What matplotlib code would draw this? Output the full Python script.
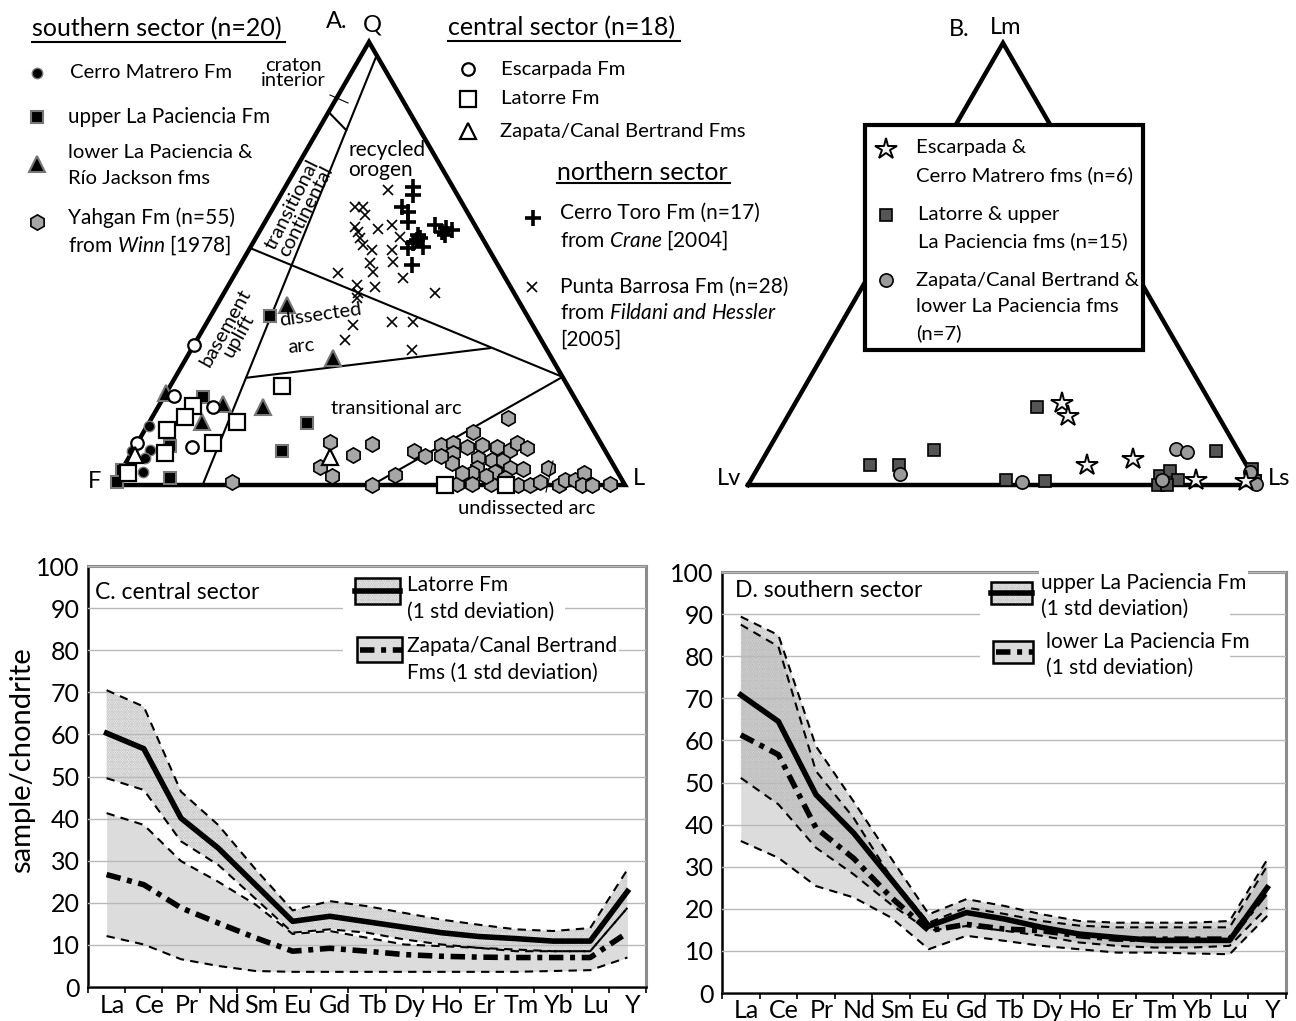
import numpy as np
import matplotlib
matplotlib.use('Agg')
import matplotlib.pyplot as plt
from matplotlib.patches import Rectangle

# ---------------------------------------------------------------- data
# Panel A: QFL compositions in percent (Q = quartz apex, L = lithic corner, F = 100-Q-L)
cm_Q = [13.3, 7.9, 6.1, 2.9, 7.6]                    # Cerro Matrero Fm
cm_L = [0.3, 3.3, 3.2, 4.4, 0.0]
ulp_Q = [38.1, 19.9, 8.8, 3.4, 0.7, 1.6, 7.7, 14.0]  # upper La Paciencia Fm
ulp_L = [11.6, 7.6, 6.7, 0.0, 0.4, 10.3, 29.2, 30.9]
llp_Q = [40.6, 28.7, 20.8, 18.3, 14.2, 17.6]         # lower La Paciencia & Rio Jackson
llp_L = [13.7, 28.6, 0.0, 12.3, 10.3, 20.5]
yah_Q = [0.7, 4.1, 2.0, 6.8, 9.3, 9.7, 0.0, 2.3, 7.7, 6.5, 9.0, 9.5, 7.2, 5.0, 8.6, 9.0,
         6.1, 3.8, 2.7, 0.2, 8.6, 5.6, 5.6, 7.9, 9.5, 8.4, 2.9, 3.8, 3.6, 0.2, 0.0, 0.0,
         3.8, 0.0, 1.1, 1.1, 2.7, 0.0, 0.0, 0.2, 0.2, 12.0, 15.1, 2.0, 2.7, 1.6, 0.7, 6.5]
yah_L = [22.9, 38.4, 41.8, 43.5, 45.9, 37.5, 50.6, 53.9, 54.9, 57.7, 59.6, 61.7, 62.8, 63.7,
         64.8, 67.6, 68.2, 69.2, 68.8, 70.1, 70.7, 71.2, 73.4, 73.6, 74.2, 76.7, 73.2, 75.6,
         78.3, 73.8, 79.1, 81.4, 83.1, 87.1, 87.7, 89.7, 90.6, 91.6, 93.6, 97.0, 67.0, 64.3,
         69.6, 71.9, 66.8, 75.8, 83.0, 60.8]
esc_Q = [31.6, 20.1, 17.6, 9.5, 8.6]                 # Escarpada Fm
esc_L = [0.0, 1.9, 10.7, 0.0, 11.1]
lat_Q = [17.8, 15.3, 14.2, 22.3, 12.4, 9.5, 7.2, 2.7, 0.0, 0.0]   # Latorre Fm
lat_L = [6.7, 6.4, 17.1, 21.9, 4.3, 14.8, 6.6, 1.6, 64.8, 76.8]
zap_Q = [6.8, 6.3]                                   # Zapata/Canal Bertrand Fms
zap_L = [0.9, 39.2]
ct_Q = [67.3, 65.5, 62.8, 61.6, 59.4, 58.7, 56.4, 55.8, 53.7, 53.5, 49.7, 57.1, 56.4, 57.6,
        55.3, 54.6, 58.0]                            # Cerro Toro Fm
ct_L = [24.9, 25.9, 25.0, 26.8, 27.9, 33.5, 31.4, 32.1, 33.7, 30.9, 33.5, 35.7, 36.6, 37.4,
        31.7, 31.3, 36.0]
pb_Q = [66.6, 62.8, 62.8, 60.9, 58.2, 57.1, 55.8, 54.2, 53.0, 57.8, 58.7, 56.0, 53.0, 50.3,
        50.1, 48.1, 46.7, 47.9, 44.7, 45.1, 43.3, 43.3, 42.2, 36.1, 36.8, 36.8, 32.7, 30.5]
pb_L = [20.4, 15.9, 17.4, 18.8, 18.2, 19.3, 20.3, 21.7, 24.1, 22.9, 25.1, 28.0, 28.0, 29.5,
        25.1, 26.7, 33.3, 20.0, 28.8, 25.1, 26.2, 41.2, 26.6, 28.8, 36.1, 40.2, 29.0, 43.2]
# QFL field boundaries: (Q1, L1, Q2, L2)
field_lines = [(97, 3, 0, 17.5), (84.2, 0, 80.1, 5.5), (53.5, 0, 24.4, 75.6),
               (24.2, 13.9, 30.9, 58.2), (24.4, 75.6, 0, 50.6)]

# Panel B: Lm (apex) and Ls (right corner) in percent, Lv = 100-Lm-Ls
st_Lm = [18.6, 15.6, 4.5, 5.9, 1.1, 0.9]
st_Ls = [52.3, 54.9, 64.2, 72.5, 87.3, 97.2]
sq_Lm = [4.5, 4.5, 7.9, 17.6, 1.1, 0.9, 7.7, 2.0, 3.2, 1.1, 0.0, 0.0, 3.6, 1.0, 0.9]
sq_Ls = [21.7, 27.4, 32.5, 47.9, 50.0, 57.8, 87.9, 79.8, 81.1, 83.8, 80.4, 82.2, 97.0, 99.0, 98.9]
ci_Lm = [2.5, 0.7, 8.1, 7.5, 1.1, 2.9, 0.2]
ci_Ls = [28.6, 53.4, 79.9, 82.3, 80.6, 97.0, 99.5]

# Panels C, D: chondrite-normalised REE
ree = ['La', 'Ce', 'Pr', 'Nd', 'Sm', 'Eu', 'Gd', 'Tb', 'Dy', 'Ho', 'Er', 'Tm', 'Yb', 'Lu', 'Y']
yticks = [0, 10, 20, 30, 40, 50, 60, 70, 80, 90, 100]
latorre_mean = [60.3, 56.6, 40.1, 33.0, 24.3, 15.6, 16.8, 15.5, 14.2, 12.9, 12.0, 11.5, 10.9, 10.9, 22.7]
latorre_up = [70.5, 66.6, 46.4, 38.5, 28.0, 18.2, 20.4, 19.2, 17.6, 16.0, 14.8, 13.7, 13.3, 14.0, 27.9]
latorre_lo = [49.6, 46.8, 34.6, 29.0, 21.0, 12.9, 13.7, 12.9, 11.3, 10.1, 9.3, 8.5, 8.5, 8.5, 18.8]
zapata_mean = [26.7, 24.3, 18.8, 15.2, 11.7, 8.5, 9.2, 8.5, 7.7, 7.3, 7.1, 7.0, 7.0, 7.0, 12.9]
zapata_up = [41.3, 38.5, 29.9, 25.0, 19.6, 12.6, 13.3, 11.7, 10.1, 9.7, 9.3, 8.9, 8.5, 8.5, 18.8]
zapata_lo = [12.1, 10.1, 6.6, 5.0, 3.8, 3.6, 3.6, 3.6, 3.6, 3.6, 3.6, 3.6, 3.8, 4.0, 7.0]
ulp_mean = [70.8, 64.5, 47.1, 38.0, 27.0, 15.9, 19.1, 17.6, 15.6, 14.0, 13.2, 12.5, 12.5, 12.5, 25.0]
ulp_up = [89.4, 85.0, 58.6, 45.5, 32.0, 18.7, 22.3, 20.7, 18.7, 17.1, 16.7, 16.7, 16.7, 17.1, 31.7]
ulp_lo = [51.1, 44.8, 34.5, 28.2, 21.0, 14.8, 15.9, 14.8, 13.6, 12.0, 11.2, 10.8, 10.8, 11.2, 20.3]
llp_mean = [61.3, 56.6, 39.2, 32.0, 22.7, 14.8, 16.3, 15.2, 14.8, 13.6, 12.8, 12.8, 12.8, 12.8, 24.2]
llp_up = [87.5, 82.3, 52.7, 41.6, 27.4, 16.7, 20.3, 18.8, 17.1, 16.0, 15.6, 15.6, 15.6, 15.6, 30.2]
llp_lo = [36.1, 32.1, 25.4, 22.7, 17.9, 10.4, 13.6, 12.4, 11.2, 10.4, 9.6, 9.6, 9.4, 9.2, 18.3]

# ---------------------------------------------------------------- style
plt.rcParams['font.family'] = ['Lato', 'DejaVu Sans']
plt.rcParams['mathtext.fontset'] = 'custom'
plt.rcParams['mathtext.rm'] = 'Lato'
plt.rcParams['mathtext.it'] = 'Lato:italic'
plt.rcParams['hatch.linewidth'] = 1.3

W, H = 1296.0, 1021.0
fig = plt.figure(figsize=(W / 100, H / 100), dpi=100)


def fbox(l, t, r, b):
    return [l / W, 1 - b / H, (r - l) / W, (b - t) / H]


# overlay in pixel coordinates for labels and legend keys
ov = fig.add_axes([0, 0, 1, 1], zorder=10)
ov.set_xlim(0, W)
ov.set_ylim(H, 0)
ov.axis('off')

S3 = np.sqrt(3) / 2


def tern(top, right):
    t = np.asarray(top, float) / 100.0
    r = np.asarray(right, float) / 100.0
    return r + t / 2.0, t * S3


def tri_axes(rect):
    ax = fig.add_axes(rect)
    ax.set_xlim(0, 1)
    ax.set_ylim(0, S3)
    ax.axis('off')
    x, y = tern([0, 0, 100, 0], [0, 100, 0, 0])
    ax.plot(x, y, color='k', lw=3.2, solid_joinstyle='miter', clip_on=False, zorder=2)
    return ax


def pts(ax, top, right, **kw):
    x, y = tern(top, right)
    ax.plot(x, y, ls='none', clip_on=False, **kw)


def txt(x, y, s, fs=15, ha='left', **kw):
    ov.text(x, y, s, fontsize=fs, ha=ha, va='center', **kw)


# ---------------------------------------------------------------- panel A
axA = tri_axes(fbox(113, 42, 625, 485))
for q1, l1, q2, l2 in field_lines:
    x, y = tern([q1, q2], [l1, l2])
    axA.plot(x, y, color='k', lw=1.5, clip_on=False, zorder=1)

st_hex = dict(marker='h', ms=11, mfc='#a6a6a6', mec='k', mew=1.2)
st_bc = dict(marker='o', ms=7.5, mfc='k', mec='#777777', mew=1.0)
st_bs = dict(marker='s', ms=9, mfc='k', mec='#777777', mew=1.5)
st_bt = dict(marker='^', ms=11, mfc='k', mec='#777777', mew=1.5)
st_oc = dict(marker='o', ms=9, mfc='w', mec='k', mew=1.6)
st_os = dict(marker='s', ms=11, mfc='w', mec='k', mew=1.6)
st_ot = dict(marker='^', ms=12, mfc='w', mec='k', mew=1.6)
st_pl = dict(marker='+', ms=12, mew=2.6, color='k')
st_x = dict(marker='x', ms=6.5, mew=1.2, color='k')

pts(axA, yah_Q, yah_L, zorder=3, **st_hex)
pts(axA, cm_Q, cm_L, zorder=4, **st_bc)
pts(axA, ulp_Q, ulp_L, zorder=4, **st_bs)
pts(axA, llp_Q, llp_L, zorder=4, **st_bt)
pts(axA, esc_Q, esc_L, zorder=5, **st_oc)
pts(axA, lat_Q, lat_L, zorder=5, **st_os)
pts(axA, zap_Q, zap_L, zorder=5, **st_ot)
pts(axA, pb_Q, pb_L, zorder=6, **st_x)
pts(axA, ct_Q, ct_L, zorder=6, **st_pl)

txt(337, 22, 'A.', 17, 'center')
txt(372, 25, 'Q', 17, 'center')
txt(95, 481, 'F', 17, 'center')
txt(639, 478, 'L', 17, 'center')
ov.text(293, 73, 'craton\ninterior', fontsize=14.5, ha='center', va='center', linespacing=0.9)
ov.plot([330, 348], [95, 103], color='k', lw=0.8)
ov.text(348, 160, 'recycled\norogen', fontsize=15, ha='left', va='center', linespacing=1.05)
ov.text(299, 208, 'transitional\ncontinental', fontsize=14.5, ha='center', va='center',
        rotation=63, linespacing=0.9)
ov.text(232, 332, 'basement\nuplift', fontsize=14.5, ha='center', va='center',
        rotation=61, linespacing=0.9)
txt(320, 315, 'dissected', 14.5, 'center', rotation=8)
txt(301, 346, 'arc', 14.5, 'center', rotation=5)
txt(396, 408, 'transitional arc', 14.5, 'center')
txt(527, 508, 'undissected arc', 14.5, 'center')
ov.plot([553, 546], [461, 492], color='k', lw=0.8)

# legend, left column
txt(32, 29, 'southern sector (n=20)', 18)
ov.plot([32, 285], [42, 42], color='k', lw=1.5)
ov.plot([37], [73], **st_bc)
txt(70, 73, 'Cerro Matrero Fm', 14.6)
ov.plot([37], [117], **st_bs)
txt(68, 117, 'upper La Paciencia Fm', 14.8)
ov.plot([37], [164], **st_bt)
txt(68, 152, 'lower La Paciencia &', 14.6)
txt(68, 178, 'Río Jackson fms', 14.6)
ov.plot([37], [222], **st_hex)
txt(68, 218, 'Yahgan Fm (n=55)', 15)
txt(68, 245, r'from $\it{Winn}$ [1978]', 15)
# legend, central and northern
txt(448, 28, 'central sector (n=18)', 18)
ov.plot([448, 680], [41, 41], color='k', lw=1.5)
ov.plot([468], [69], **st_oc)
txt(501, 69, 'Escarpada Fm', 14.7)
ov.plot([468], [99], **st_os)
txt(501, 99, 'Latorre Fm', 14.7)
ov.plot([468], [131], **st_ot)
txt(500, 131, 'Zapata/Canal Bertrand Fms', 14.6)
txt(557, 172, 'northern sector', 18)
ov.plot([557, 730], [183, 183], color='k', lw=1.5)
ov.plot([533], [218], **st_pl)
txt(560, 213, 'Cerro Toro Fm (n=17)', 15)
txt(560, 240, r'from $\it{Crane}$ [2004]', 15)
ov.plot([532], [287], **st_x)
txt(560, 287, 'Punta Barrosa Fm (n=28)', 15)
txt(560, 313, r'from $\it{Fildani\ and\ Hessler}$', 15)
txt(560, 340, '[2005]', 15)

# ---------------------------------------------------------------- panel B
axB = tri_axes(fbox(748, 43, 1258, 485))
st_star = dict(marker='*', ms=16, mfc='#f2f2f2', mec='k', mew=1.4)
st_dsq = dict(marker='s', ms=9, mfc='#555555', mec='k', mew=1.2)
st_gci = dict(marker='o', ms=9.5, mfc='#9a9a9a', mec='k', mew=1.2)
pts(axB, sq_Lm, sq_Ls, zorder=3, **st_dsq)
pts(axB, ci_Lm, ci_Ls, zorder=4, **st_gci)
pts(axB, st_Lm, st_Ls, zorder=5, **st_star)
txt(959, 30, 'B.', 17, 'center')
txt(1006, 27, 'Lm', 17, 'center')
txt(729, 478, 'Lv', 17, 'center')
txt(1279, 478, 'Ls', 17, 'center')
ov.add_patch(Rectangle((865, 125), 278, 225, facecolor='white', edgecolor='k', lw=3, zorder=1))
ov.plot([886], [149], zorder=3, **st_star)
txt(916, 148, 'Escarpada &', 14.6, zorder=3)
txt(916, 175, 'Cerro Matrero fms (n=6)', 14.6, zorder=3)
ov.plot([886], [215], zorder=3, **st_dsq)
txt(918, 214, 'Latorre & upper', 14.6, zorder=3)
txt(918, 241, 'La Paciencia fms (n=15)', 14.6, zorder=3)
ov.plot([886], [280], zorder=3, **st_gci)
txt(916, 280, 'Zapata/Canal Bertrand &', 14.6, zorder=3)
txt(916, 306, 'lower La Paciencia fms', 14.6, zorder=3)
txt(916, 333, '(n=7)', 14.6, zorder=3)

# ---------------------------------------------------------------- panels C, D
xi = np.arange(len(ree))
MEAN_DD = (2.6, 1.2, 0.9, 1.2)
DOTS = '.......'
DOTC = '#b0b0b0'


def ree_axes(rect, xpad):
    ax = fig.add_axes(rect)
    ax.set_xlim(-0.5, len(ree) - 0.5)
    ax.set_ylim(0, 100)
    ax.set_yticks(yticks)
    ax.set_yticklabels([str(v) for v in yticks], fontsize=18)
    ax.set_xticks(xi + 0.15)
    ax.set_xticklabels(ree, fontsize=18)
    ax.set_xticks(np.arange(-0.5, len(ree), 1.0), minor=True)
    ax.tick_params(axis='x', which='major', length=0, pad=xpad)
    ax.tick_params(axis='x', which='minor', length=4, width=1.2, direction='out')
    ax.tick_params(axis='y', length=0, pad=6)
    ax.yaxis.grid(True, color='#b9b9b9', lw=1.0)
    ax.set_axisbelow(False)
    for s in ('left', 'bottom'):
        ax.spines[s].set_color('k')
        ax.spines[s].set_linewidth(1.8)
    for s in ('top', 'right'):
        ax.spines[s].set_color('#8c8c8c')
        ax.spines[s].set_linewidth(2.2)
    return ax


def gray_band(ax, lo, up):
    ax.fill_between(xi, lo, up, color='#dcdcdc', lw=0, zorder=1)


def dot_band(ax, lo, up):
    ax.fill_between(xi, lo, up, facecolor='none', edgecolor=DOTC, hatch=DOTS, lw=0, zorder=1.5)


def sd_lines(ax, lo, up):
    for v in (lo, up):
        ax.plot(xi, v, color='k', lw=1.5, dashes=(4, 3), zorder=3)


axC = ree_axes(fbox(88, 566, 646, 987), 5)
gray_band(axC, zapata_lo, zapata_up)
dot_band(axC, latorre_lo, latorre_up)
sd_lines(axC, zapata_lo, zapata_up)
sd_lines(axC, latorre_lo, latorre_up)
axC.plot(xi, zapata_mean, color='k', lw=4, dashes=MEAN_DD, zorder=4)
axC.plot(xi, latorre_mean, color='k', lw=4, zorder=4)
axC.set_ylabel('sample/chondrite', fontsize=21)
axC.yaxis.set_label_coords(-0.095, 0.54)

axD = ree_axes(fbox(722, 572, 1286, 993), 4)
gray_band(axD, llp_lo, llp_up)
dot_band(axD, ulp_lo, ulp_up)
sd_lines(axD, llp_lo, llp_up)
sd_lines(axD, ulp_lo, ulp_up)
axD.plot(xi, llp_mean, color='k', lw=4, dashes=MEAN_DD, zorder=4)
axD.plot(xi, ulp_mean, color='k', lw=4, zorder=4)

WB = dict(facecolor='white', edgecolor='none', pad=1.5)


def key(x0, y0, w, h, dotted, solid):
    if dotted:
        ov.add_patch(Rectangle((x0, y0), w, h, facecolor='white', edgecolor=DOTC,
                               hatch=DOTS, lw=0))
    else:
        ov.add_patch(Rectangle((x0, y0), w, h, facecolor='#dcdcdc', lw=0))
    ov.add_patch(Rectangle((x0, y0), w, h, facecolor='none', edgecolor='k', lw=1.8))
    if solid:
        ov.plot([x0, x0 + w], [y0 + h / 2] * 2, color='k', lw=4)
    else:
        ov.plot([x0 + 3, x0 + w], [y0 + h / 2] * 2, color='k', lw=4, dashes=MEAN_DD)


txt(95, 592, 'C. central sector', 16.5)
ov.add_patch(Rectangle((343, 574), 222, 110, facecolor='white', lw=0, zorder=0.5))
key(355, 578, 45, 26, True, True)
key(357, 637, 45, 25, False, False)
txt(407, 585, 'Latorre Fm', 15, bbox=WB)
txt(407, 612, '(1 std deviation)', 15, bbox=WB)
txt(407, 646, 'Zapata/Canal Bertrand', 15, bbox=WB)
txt(407, 673, 'Fms (1 std deviation)', 15, bbox=WB)

txt(735, 590, 'D. southern sector', 16.5)
ov.add_patch(Rectangle((980, 576), 250, 105, facecolor='white', lw=0, zorder=0.5))
key(991, 582, 41, 22, True, True)
key(993, 641, 40, 22, False, False)
txt(1041, 583, 'upper La Paciencia Fm', 15, bbox=WB)
txt(1041, 609, '(1 std deviation)', 15, bbox=WB)
txt(1046, 642, 'lower La Paciencia Fm', 15, bbox=WB)
txt(1046, 668, '(1 std deviation)', 15, bbox=WB)

fig.savefig('out.png', dpi=100, facecolor='white')
